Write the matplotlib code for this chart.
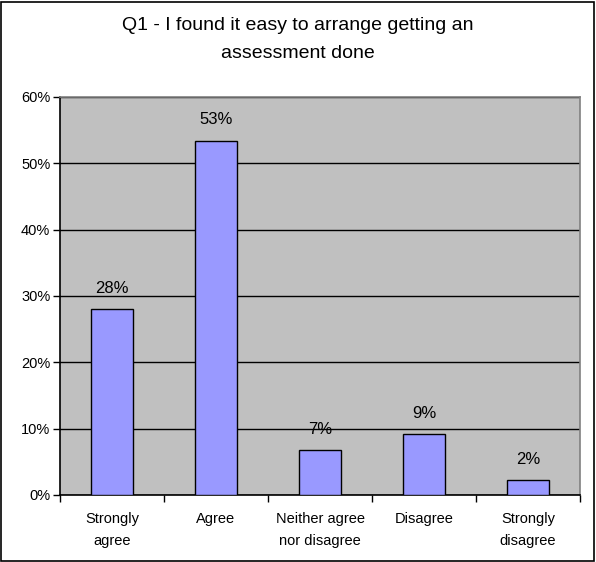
import matplotlib.pyplot as plt
from matplotlib.patches import Rectangle
from matplotlib.ticker import MultipleLocator, PercentFormatter, FixedLocator

# Survey responses for Q1
categories = ["Strongly\nagree", "Agree", "Neither agree\nnor disagree", "Disagree", "Strongly\ndisagree"]
shares = [0.28, 0.534, 0.068, 0.092, 0.022]

plt.rcParams["font.family"] = ["Liberation Sans", "DejaVu Sans"]

fig = plt.figure(figsize=(5.96, 5.62), dpi=100)
W, H = 596, 562
ax = fig.add_axes([60 / W, (H - 495) / H, 520 / W, (495 - 97) / H])

x = list(range(len(categories)))
ax.set_facecolor("#C0C0C0")
ax.yaxis.grid(True, color="black", linewidth=1)
ax.set_axisbelow(True)
bars = ax.bar(x, shares, width=0.41, color="#9999FF", edgecolor="black", linewidth=1, zorder=3)

for xi, v in zip(x, shares):
    ax.annotate(f"{round(v * 100)}%", (xi, v), xytext=(0, 15), textcoords="offset points",
                ha="center", va="center", fontsize=12)

ax.set_xlim(-0.5, len(categories) - 0.5)
ax.set_ylim(0, 0.6)
ax.yaxis.set_major_locator(MultipleLocator(0.1))
ax.yaxis.set_major_formatter(PercentFormatter(1.0, decimals=0))
ax.tick_params(axis="y", length=5, width=1, direction="out", pad=2, labelsize=10.5)

ax.set_xticks(x)
ax.set_xticklabels(categories, fontsize=10.5, linespacing=1.75)
ax.tick_params(axis="x", which="major", length=0, pad=12)
ax.xaxis.set_minor_locator(FixedLocator([i - 0.5 for i in range(len(categories) + 1)]))
ax.tick_params(axis="x", which="minor", length=5, width=1, direction="out")

ax.spines["left"].set_color("black")
ax.spines["bottom"].set_color("black")
ax.spines["top"].set_color("#808080")
ax.spines["right"].set_color("#808080")
for s in ax.spines.values():
    s.set_linewidth(1.2)

fig.text(0.5, 1 - 25 / H, "Q1 - I found it easy to arrange getting an", ha="center", va="center", fontsize=14)
fig.text(0.5, 1 - 54 / H, "assessment done", ha="center", va="center", fontsize=14)

fig.patches.append(Rectangle((1 / W, 1 / H), 1 - 3 / W, 1 - 3 / H, transform=fig.transFigure,
                             fill=False, edgecolor="black", linewidth=1.2))

fig.savefig("out.png", dpi=100)
